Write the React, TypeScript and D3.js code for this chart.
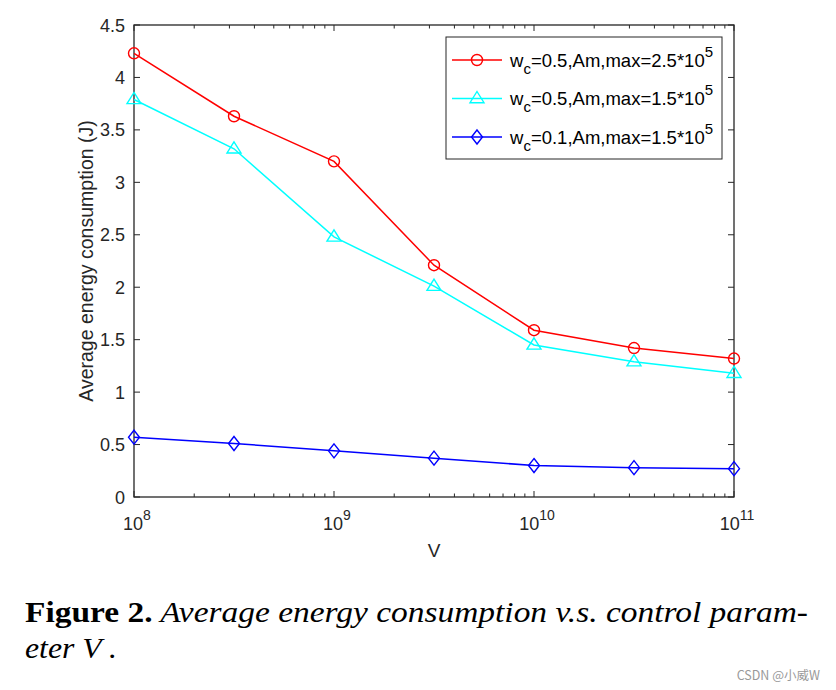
import React from "react";
import * as d3 from "d3";

const V = [1e8, 10 ** 8.5, 1e9, 10 ** 9.5, 1e10, 10 ** 10.5, 1e11];
const redVals = [4.23, 3.63, 3.2, 2.21, 1.59, 1.42, 1.32];
const cyanVals = [3.79, 3.32, 2.48, 2.01, 1.45, 1.29, 1.18];
const blueVals = [0.57, 0.51, 0.44, 0.37, 0.3, 0.28, 0.27];
const yTicks = [0, 0.5, 1, 1.5, 2, 2.5, 3, 3.5, 4, 4.5];
const xDecades = [8, 9, 10, 11];
const legendLabels = [
  { main: "w", sub: "c", rest: "=0.5,Am,max=2.5*10", sup: "5" },
  { main: "w", sub: "c", rest: "=0.5,Am,max=1.5*10", sup: "5" },
  { main: "w", sub: "c", rest: "=0.1,Am,max=1.5*10", sup: "5" },
];

const L = 134, R = 734, T = 25, B = 497;
const FONT = "'Liberation Sans', Arial, Helvetica, sans-serif";
const SERIF = "'Liberation Serif', 'Times New Roman', serif";

function Marker({ type, x, y, color }: { type: string; x: number; y: number; color: string }) {
  if (type === "circle") return <circle cx={x} cy={y} r={5.5} fill="none" stroke={color} strokeWidth={1.4} />;
  if (type === "tri") {
    const s = 7;
    return <path d={`M${x},${y - s} L${x + s},${y + s * 0.6} L${x - s},${y + s * 0.6} Z`} fill="none" stroke={color} strokeWidth={1.4} />;
  }
  const s = 7, w = 5.5;
  return <path d={`M${x},${y - s} L${x + w},${y} L${x},${y + s} L${x - w},${y} Z`} fill="none" stroke={color} strokeWidth={1.4} />;
}

export default function App() {
  const x = d3.scaleLog().domain([1e8, 1e11]).range([L, R]);
  const y = d3.scaleLinear().domain([0, 4.5]).range([B, T]);
  const series = [
    { vals: redVals, color: "#ff0000", m: "circle" },
    { vals: cyanVals, color: "#00ffff", m: "tri" },
    { vals: blueVals, color: "#0000ff", m: "diamond" },
  ];
  const line = d3.line<number>().x((_, i) => x(V[i])).y((d) => y(d));
  const minor: number[] = [];
  for (let e = 8; e < 11; e++) for (let k = 2; k <= 9; k++) minor.push(k * 10 ** e);

  return (
    <svg width={836} height={690} style={{ display: "block", position: "absolute", left: 0, top: 0, background: "#fff" }}>
      <rect width={836} height={690} fill="#fff" />
      <g stroke="#262626" strokeWidth={1}>
        {yTicks.map((t) => (
          <g key={"y" + t}>
            <line x1={L} x2={L + 6} y1={y(t)} y2={y(t)} />
            <line x1={R} x2={R - 6} y1={y(t)} y2={y(t)} />
          </g>
        ))}
        {xDecades.map((e) => (
          <g key={"xd" + e}>
            <line x1={x(10 ** e)} x2={x(10 ** e)} y1={B} y2={B - 6} />
            <line x1={x(10 ** e)} x2={x(10 ** e)} y1={T} y2={T + 6} />
          </g>
        ))}
        {minor.map((v) => (
          <g key={"m" + v}>
            <line x1={x(v)} x2={x(v)} y1={B} y2={B - 3.5} />
            <line x1={x(v)} x2={x(v)} y1={T} y2={T + 3.5} />
          </g>
        ))}
      </g>
      <rect x={L} y={T} width={R - L} height={B - T} fill="none" stroke="#262626" strokeWidth={1.3} />
      {yTicks.map((t) => (
        <text key={"yl" + t} x={L - 9} y={y(t) + 6.5} textAnchor="end" fontFamily={FONT} fontSize={18} fill="#262626">
          {t}
        </text>
      ))}
      {xDecades.map((e) => (
        <text key={"xl" + e} x={x(10 ** e) + 3} y={530} textAnchor="middle" fontFamily={FONT} fontSize={18} fill="#262626">
          10
          <tspan dy={-10} fontSize={14}>{e}</tspan>
        </text>
      ))}
      <text x={(L + R) / 2} y={557} textAnchor="middle" fontFamily={FONT} fontSize={19} fill="#262626">V</text>
      <text transform={`translate(93,${(T + B) / 2}) rotate(-90)`} textAnchor="middle" fontFamily={FONT} fontSize={19.5} fill="#262626">
        Average energy consumption (J)
      </text>
      {series.map((s, si) => (
        <g key={"s" + si}>
          <path d={line(s.vals) || ""} fill="none" stroke={s.color} strokeWidth={1.5} />
          {s.vals.map((v, i) => (
            <Marker key={i} type={s.m} x={x(V[i])} y={y(v)} color={s.color} />
          ))}
        </g>
      ))}
      <rect x={446} y={37} width={276} height={122} fill="#fff" stroke="#262626" strokeWidth={1} />
      {series.map((s, i) => {
        const ly = 60 + i * 38.5;
        const lb = legendLabels[i];
        return (
          <g key={"lg" + i}>
            <line x1={452} x2={502} y1={ly} y2={ly} stroke={s.color} strokeWidth={1.5} />
            <Marker type={s.m} x={477} y={ly} color={s.color} />
            <text x={510} y={ly + 6.5} fontFamily={FONT} fontSize={18.5} fill="#000">
              {lb.main}
              <tspan dy={7} fontSize={15}>{lb.sub}</tspan>
              <tspan dy={-7}>{lb.rest}</tspan>
              <tspan dy={-10} fontSize={15}>{lb.sup}</tspan>
            </text>
          </g>
        );
      })}
      <text x={25} y={622} fontFamily={SERIF} fontSize={29.5} fill="#000" textLength={783} lengthAdjust="spacingAndGlyphs">
        <tspan fontWeight="bold">Figure 2.</tspan>
        <tspan fontStyle="italic"> Average energy consumption v.s.  control param-</tspan>
      </text>
      <text x={25} y={658} fontFamily={SERIF} fontSize={29.5} fontStyle="italic" fill="#000" textLength={92} lengthAdjust="spacingAndGlyphs">
        eter V .
      </text>
      <text x={820} y={680} textAnchor="end" fontFamily="'Noto Sans CJK SC', sans-serif" fontSize={12.5} fill="#999">
        CSDN @小威W
      </text>
    </svg>
  );
}
